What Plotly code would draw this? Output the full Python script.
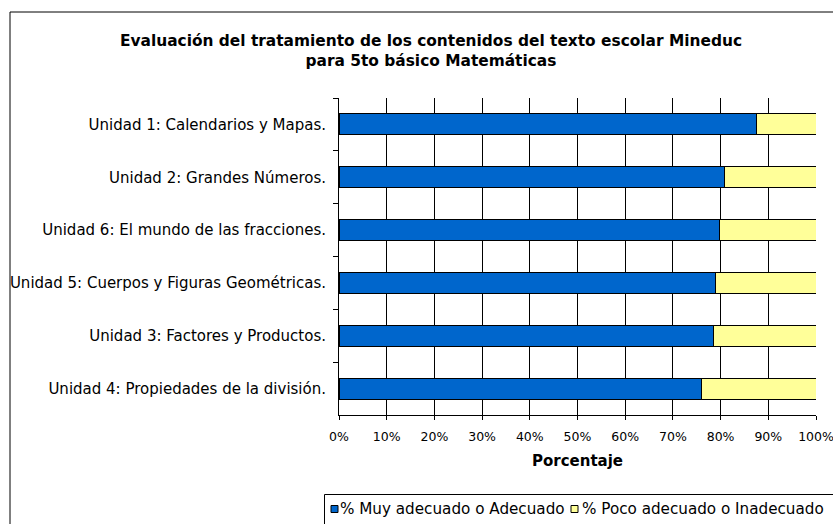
import plotly.graph_objects as go

categories = [
    "Unidad 1: Calendarios y Mapas.",
    "Unidad 2: Grandes Números.",
    "Unidad 6: El mundo de las fracciones.",
    "Unidad 5: Cuerpos y Figuras Geométricas.",
    "Unidad 3: Factores y Productos.",
    "Unidad 4: Propiedades de la división.",
]
adecuado = [87.5, 80.9, 79.8, 79.0, 78.5, 76.0]
inadecuado = [12.5, 19.1, 20.2, 21.0, 21.5, 24.0]
x_ticks = [0, 10, 20, 30, 40, 50, 60, 70, 80, 90, 100]
x_tick_labels = [f"{v}%" for v in x_ticks]
series_names = ["% Muy adecuado o Adecuado", "% Poco adecuado o Inadecuado"]
series_colors = ["#0066CC", "#FFFF99"]

FONT = "'DejaVu Sans', sans-serif"
FS = 15

W, H = 833, 524
L, R, T, B = 339, 17, 98, 109
pw, ph = W - L - R, H - T - B

def px_x(p):
    return (p - L) / pw

def px_y(p):
    return (H - B - p) / ph

fig = go.Figure()
for vals, name, col in zip([adecuado, inadecuado], series_names, series_colors):
    fig.add_trace(go.Bar(
        y=categories, x=vals, orientation="h", name=name,
        marker=dict(color=col, line=dict(color="black", width=1)),
        showlegend=False,
    ))

shapes = [dict(
    type="rect", xref="paper", yref="paper",
    x0=px_x(10), x1=px_x(W + 10), y0=px_y(H + 10), y1=px_y(12),
    line=dict(color="black", width=1), fillcolor="rgba(0,0,0,0)", layer="below",
)]
# legend box
shapes.append(dict(
    type="rect", xref="paper", yref="paper",
    x0=px_x(324.5), x1=px_x(W + 10), y0=px_y(H + 10), y1=px_y(494.5),
    line=dict(color="black", width=1), fillcolor="white",
))
annotations = []
leg_sq_x = [331, 571]
leg_txt_x = [339, 581]
leg_cy = 509
for sx, tx, name, col in zip(leg_sq_x, leg_txt_x, series_names, series_colors):
    shapes.append(dict(
        type="rect", xref="paper", yref="paper",
        x0=px_x(sx), x1=px_x(sx + 7), y0=px_y(leg_cy + 3.5), y1=px_y(leg_cy - 3.5),
        line=dict(color="black", width=1), fillcolor=col,
    ))
    annotations.append(dict(
        text=name, xref="paper", yref="paper", x=px_x(tx), y=px_y(leg_cy),
        xanchor="left", yanchor="middle", showarrow=False, borderpad=0,
        font=dict(family=FONT, size=15.2, color="black"),
    ))

fig.update_layout(
    width=W, height=H,
    margin=dict(l=L, r=R, t=T, b=B, pad=0),
    barmode="stack", bargap=0.6,
    paper_bgcolor="white", plot_bgcolor="white",
    font=dict(family=FONT, size=FS, color="black"),
    showlegend=False,
    title=dict(
        text="<b>Evaluación del tratamiento de los contenidos del texto escolar Mineduc<br>para 5to básico Matemáticas</b>",
        x=431 / W, xanchor="center", xref="container",
        y=1 - 46 / H, yanchor="top", yref="container",
        font=dict(family=FONT, size=15.4, color="black"),
    ),
    xaxis=dict(
        range=[0, 100], tickvals=x_ticks, ticktext=x_tick_labels,
        showgrid=True, gridcolor="black", gridwidth=1,
        showline=True, linecolor="black", linewidth=1,
        ticks="outside", ticklen=4, tickcolor="black",
        tickfont=dict(family=FONT, size=12.5),
        ticklabelstandoff=6, ticklabeloverflow="allow",
        zeroline=False, automargin=False,
        title=dict(text="<b>Porcentaje</b>", standoff=12, font=dict(family=FONT, size=FS)),
        fixedrange=True,
    ),
    yaxis=dict(
        categoryorder="array", categoryarray=categories, autorange="reversed",
        showgrid=False, showline=True, linecolor="black", linewidth=1,
        ticks="outside", ticklen=5, tickcolor="black", tickson="boundaries",
        ticklabelstandoff=9, automargin=False,
        fixedrange=True,
    ),
    shapes=shapes,
    annotations=annotations,
)

fig.write_html(
    "out.html",
    config={"displayModeBar": False},
    post_script="document.body.style.margin='0';document.body.style.overflow='hidden';",
)
